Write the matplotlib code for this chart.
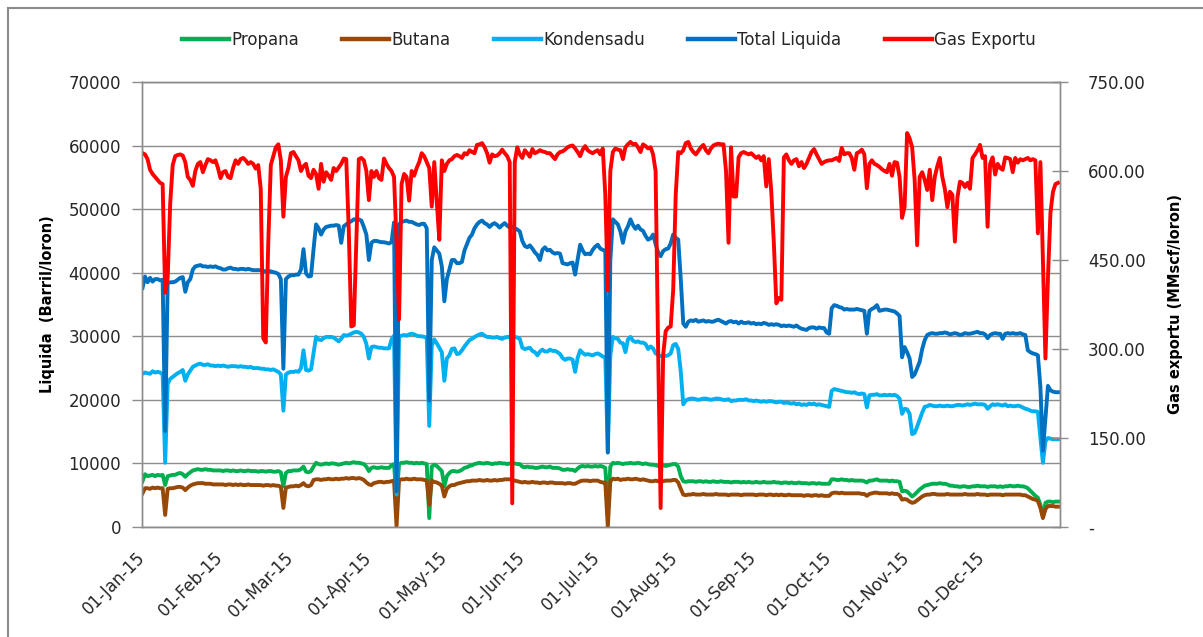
import matplotlib
matplotlib.use('Agg')
import matplotlib.pyplot as plt
import matplotlib.dates as mdates
from matplotlib.ticker import FuncFormatter, MultipleLocator
from matplotlib.lines import Line2D
import numpy as np
import pandas as pd

# daily values for 2015, one row per month (liquids in thousand barrel/day)
days = pd.date_range('2015-01-01', '2015-12-31', freq='D')

propana = [
    7.2, 8.3, 8.0, 8.1, 8.2, 8.0, 8.2, 8.1, 8.2, 6.6, 8.0, 8.1, 8.2, 8.2, 8.4, 8.5, 8.3, 7.9, 8.3, 8.6, 8.9, 9.0, 9.1, 9.0, 9.0, 9.1, 9.0, 9.0, 8.9, 8.9, 8.9,
    8.9, 8.8, 8.9, 8.9, 8.8, 8.9, 8.8, 8.8, 8.9, 8.8, 8.8, 8.9, 8.8, 8.8, 8.8, 8.7, 8.8, 8.8, 8.7, 8.8, 8.8, 8.7, 8.7, 8.8, 8.6, 6.4, 8.5, 8.8,
    8.8, 8.9, 8.9, 8.9, 9.1, 9.5, 8.7, 8.6, 8.8, 9.5, 10.1, 9.9, 9.8, 9.9, 10.0, 9.9, 10.0, 10.0, 9.9, 9.8, 9.9, 10.0, 10.1, 10.0, 10.1, 10.2, 10.1, 10.1, 10.0, 9.9, 9.5,
    8.8, 9.3, 9.4, 9.3, 9.3, 9.4, 9.3, 9.3, 9.3, 9.7, 9.9, 4.5, 9.9, 10.1, 10.1, 10.2, 10.1, 10.1, 10.0, 10.1, 10.0, 10.1, 10.0, 9.9, 1.4, 9.5, 9.8, 9.6, 9.2, 8.8,
    6.4, 8.0, 8.5, 8.8, 8.8, 8.7, 8.8, 9.0, 9.3, 9.4, 9.6, 9.7, 9.9, 10.0, 10.1, 10.0, 10.0, 10.1, 10.0, 9.9, 10.0, 10.0, 10.1, 10.0, 10.0, 9.9, 10.0, 10.0, 10.0, 9.9, 9.9,
    9.5, 9.4, 9.5, 9.4, 9.4, 9.3, 9.3, 9.4, 9.5, 9.4, 9.4, 9.5, 9.3, 9.3, 9.3, 9.2, 9.0, 9.0, 9.1, 9.0, 9.0, 8.8, 9.2, 9.5, 9.6, 9.5, 9.6, 9.5, 9.5, 9.6,
    9.5, 9.6, 9.5, 9.3, 3.0, 9.5, 10.1, 10.0, 10.1, 10.0, 9.9, 10.0, 10.0, 10.1, 10.0, 10.0, 10.1, 10.0, 9.9, 10.0, 9.9, 9.8, 9.8, 9.7, 9.6, 9.7, 9.7, 9.6, 9.7, 9.8, 9.9,
    9.9, 9.5, 8.0, 7.2, 7.1, 7.2, 7.2, 7.2, 7.1, 7.2, 7.2, 7.1, 7.2, 7.1, 7.1, 7.2, 7.1, 7.1, 7.2, 7.1, 7.1, 7.1, 7.0, 7.1, 7.1, 7.1, 7.0, 7.1, 7.0, 7.1, 7.0,
    7.0, 7.1, 7.0, 7.0, 7.1, 7.0, 7.0, 7.0, 7.1, 7.0, 7.0, 6.9, 7.0, 7.0, 6.9, 7.0, 6.9, 6.9, 7.0, 6.9, 6.9, 6.9, 6.8, 6.9, 6.9, 6.8, 6.9, 6.8, 6.8, 6.8,
    6.8, 7.5, 7.5, 7.4, 7.4, 7.5, 7.4, 7.4, 7.3, 7.4, 7.3, 7.3, 7.3, 7.3, 7.2, 7.0, 7.3, 7.3, 7.4, 7.5, 7.3, 7.3, 7.3, 7.3, 7.2, 7.3, 7.2, 7.2, 7.1, 5.6, 5.7,
    5.6, 5.2, 4.8, 5.1, 5.5, 5.9, 6.2, 6.5, 6.6, 6.7, 6.8, 6.8, 6.8, 6.9, 6.8, 6.8, 6.7, 6.5, 6.5, 6.4, 6.4, 6.3, 6.4, 6.4, 6.3, 6.3, 6.4, 6.4, 6.5, 6.4,
    6.4, 6.4, 6.3, 6.4, 6.4, 6.4, 6.3, 6.4, 6.3, 6.4, 6.4, 6.5, 6.4, 6.4, 6.5, 6.4, 6.4, 6.3, 6.1, 5.7, 5.3, 4.9, 4.6, 3.5, 1.6, 3.8, 4.0, 4.0, 3.9, 4.0, 4.0,
]

butana = [
    5.3, 6.1, 6.1, 6.0, 6.2, 6.1, 6.2, 6.1, 6.1, 1.9, 6.0, 6.1, 6.1, 6.2, 6.3, 6.3, 6.2, 5.8, 6.2, 6.5, 6.7, 6.8, 6.9, 6.9, 6.9, 6.8, 6.8, 6.8, 6.7, 6.7, 6.7,
    6.7, 6.7, 6.6, 6.7, 6.7, 6.6, 6.7, 6.6, 6.7, 6.6, 6.6, 6.7, 6.6, 6.6, 6.6, 6.6, 6.6, 6.5, 6.6, 6.6, 6.5, 6.6, 6.5, 6.5, 6.3, 3.0, 6.2, 6.3,
    6.4, 6.4, 6.5, 6.4, 6.6, 6.9, 6.5, 6.4, 6.6, 7.4, 7.5, 7.5, 7.4, 7.5, 7.5, 7.6, 7.5, 7.5, 7.6, 7.5, 7.6, 7.6, 7.7, 7.6, 7.7, 7.7, 7.6, 7.7, 7.6, 7.4, 7.0,
    6.7, 6.6, 6.9, 7.0, 7.1, 7.1, 7.0, 7.1, 7.1, 7.2, 7.3, 0.1, 7.4, 7.5, 7.5, 7.6, 7.5, 7.5, 7.6, 7.5, 7.5, 7.5, 7.4, 7.3, 3.5, 7.3, 7.1, 7.0, 6.8, 6.5,
    4.8, 6.0, 6.4, 6.6, 6.6, 6.8, 6.9, 7.0, 7.1, 7.2, 7.2, 7.3, 7.3, 7.3, 7.4, 7.3, 7.3, 7.4, 7.3, 7.3, 7.4, 7.3, 7.4, 7.4, 7.5, 7.5, 7.5, 7.4, 7.3, 7.2, 7.1,
    7.0, 7.1, 7.0, 7.0, 7.1, 7.0, 7.0, 6.9, 7.0, 7.0, 6.9, 7.0, 7.0, 6.9, 6.9, 6.9, 6.9, 6.8, 6.9, 6.9, 6.8, 6.8, 7.0, 7.2, 7.3, 7.3, 7.3, 7.2, 7.3, 7.3,
    7.3, 7.1, 7.0, 7.0, 0.0, 7.2, 7.6, 7.5, 7.6, 7.4, 7.5, 7.5, 7.6, 7.5, 7.5, 7.6, 7.5, 7.4, 7.5, 7.4, 7.3, 7.2, 7.2, 7.3, 7.2, 7.2, 7.2, 7.3, 7.3, 7.3, 7.4,
    7.4, 7.0, 6.0, 5.1, 5.0, 5.1, 5.1, 5.2, 5.1, 5.1, 5.1, 5.2, 5.1, 5.1, 5.1, 5.1, 5.2, 5.1, 5.1, 5.1, 5.1, 5.0, 5.1, 5.1, 5.1, 5.1, 5.0, 5.1, 5.1, 5.1, 5.1,
    5.1, 5.0, 5.1, 5.1, 5.1, 5.0, 5.1, 5.1, 5.0, 5.1, 5.0, 5.1, 5.0, 5.0, 5.1, 5.0, 5.0, 5.0, 5.0, 5.0, 4.9, 5.0, 5.0, 4.9, 5.0, 5.0, 4.9, 5.0, 4.9, 4.9,
    4.9, 5.3, 5.4, 5.4, 5.3, 5.4, 5.3, 5.3, 5.3, 5.3, 5.3, 5.3, 5.3, 5.2, 5.2, 4.9, 5.2, 5.3, 5.4, 5.4, 5.3, 5.3, 5.3, 5.3, 5.2, 5.3, 5.2, 5.2, 5.0, 4.3, 4.4,
    4.3, 4.0, 3.8, 3.9, 4.2, 4.5, 4.8, 5.0, 5.1, 5.1, 5.2, 5.2, 5.1, 5.1, 5.1, 5.1, 5.2, 5.1, 5.1, 5.1, 5.1, 5.1, 5.1, 5.2, 5.1, 5.1, 5.1, 5.1, 5.2, 5.1,
    5.1, 5.1, 5.0, 5.1, 5.1, 5.1, 5.1, 5.1, 5.0, 5.1, 5.1, 5.1, 5.1, 5.1, 5.1, 5.1, 5.0, 5.0, 4.8, 4.6, 4.4, 4.3, 4.1, 3.0, 1.4, 2.8, 3.3, 3.3, 3.3, 3.2, 3.2,
]

kondensadu = [
    24.1, 24.3, 24.2, 24.1, 24.5, 24.3, 24.4, 24.3, 24.0, 10.1, 22.5, 23.3, 23.6, 23.9, 24.2, 24.4, 24.7, 23.0, 24.0, 24.6, 25.2, 25.4, 25.6, 25.7, 25.5, 25.5, 25.6, 25.4, 25.4, 25.3, 25.4,
    25.3, 25.4, 25.3, 25.2, 25.3, 25.3, 25.3, 25.2, 25.3, 25.2, 25.2, 25.1, 25.2, 25.0, 25.0, 25.0, 24.9, 24.9, 24.8, 24.8, 24.7, 24.8, 24.6, 24.4, 24.0, 18.3, 24.0, 24.3,
    24.4, 24.4, 24.5, 24.4, 25.0, 27.8, 24.7, 24.6, 24.8, 27.3, 29.9, 29.5, 29.4, 29.7, 29.9, 29.9, 29.9, 29.8, 29.5, 29.2, 29.6, 30.2, 30.1, 30.2, 30.4, 30.6, 30.7, 30.6, 30.4, 29.9, 28.8,
    26.5, 28.3, 28.4, 28.3, 28.2, 28.2, 28.1, 28.1, 28.1, 29.5, 30.1, 5.1, 30.0, 30.1, 30.2, 30.1, 30.3, 30.4, 30.3, 30.1, 30.0, 30.0, 29.9, 29.8, 15.9, 28.5, 29.5, 28.9, 28.2, 27.5,
    23.0, 26.5, 27.0, 28.0, 28.1, 27.2, 27.3, 27.8, 28.4, 28.9, 29.4, 29.6, 29.9, 30.1, 30.3, 30.4, 30.1, 29.9, 29.9, 29.8, 29.8, 29.9, 29.7, 29.6, 29.8, 29.9, 29.9, 29.9, 29.9, 29.8, 29.6,
    28.2, 28.0, 28.1, 28.2, 27.7, 27.5, 27.0, 27.6, 27.9, 27.6, 27.6, 27.9, 27.7, 27.7, 27.5, 27.2, 26.6, 26.3, 26.5, 26.5, 26.3, 24.4, 26.6, 27.8, 27.4, 27.1, 27.2, 27.1, 27.0, 27.2,
    27.3, 27.1, 26.8, 26.7, 11.8, 27.0, 29.9, 29.7, 29.6, 29.0, 28.9, 27.5, 29.5, 29.9, 29.3, 29.1, 29.2, 29.0, 29.0, 28.8, 28.0, 28.4, 28.1, 27.3, 27.1, 26.9, 26.9, 26.9, 27.0, 27.3, 28.6,
    28.8, 28.0, 24.5, 19.3, 19.9, 20.1, 20.2, 20.2, 20.1, 20.0, 20.1, 20.2, 20.2, 20.1, 20.0, 20.1, 20.2, 20.2, 20.1, 20.0, 20.0, 20.1, 19.8, 19.9, 19.9, 20.0, 20.0, 20.0, 20.1, 19.9, 19.9,
    19.8, 19.9, 19.8, 19.7, 19.8, 19.7, 19.8, 19.8, 19.7, 19.6, 19.7, 19.7, 19.5, 19.6, 19.5, 19.4, 19.5, 19.3, 19.4, 19.2, 19.3, 19.2, 19.4, 19.3, 19.4, 19.2, 19.3, 19.2, 19.1, 19.0,
    18.9, 21.4, 21.7, 21.6, 21.5, 21.4, 21.3, 21.2, 21.2, 21.1, 21.2, 21.0, 20.9, 21.0, 20.9, 18.8, 20.7, 20.8, 20.8, 20.9, 20.7, 20.7, 20.8, 20.7, 20.8, 20.7, 20.8, 20.6, 20.2, 17.8, 18.6,
    18.5, 17.8, 14.6, 14.8, 15.8, 16.9, 18.0, 18.9, 19.0, 19.2, 19.1, 19.0, 19.0, 19.1, 19.0, 19.0, 19.1, 19.0, 19.0, 19.1, 19.2, 19.2, 19.1, 19.2, 19.3, 19.2, 19.3, 19.4, 19.3, 19.3,
    19.3, 19.2, 18.6, 19.0, 19.3, 19.2, 19.3, 19.2, 19.1, 19.3, 19.0, 19.1, 19.0, 19.0, 19.1, 19.0, 18.8, 18.6, 18.5, 18.3, 18.2, 18.2, 18.1, 14.0, 10.1, 13.5, 14.0, 13.9, 13.8, 13.8, 13.8,
]

total_liquida = [
    37.6, 39.4, 38.5, 39.2, 38.6, 39.0, 39.0, 38.8, 38.9, 15.1, 38.4, 38.5, 38.5, 38.6, 38.9, 39.2, 39.3, 37.0, 38.5, 39.0, 40.5, 41.0, 41.1, 41.2, 41.0, 41.0, 40.9, 41.0, 40.9, 41.0, 40.8,
    40.7, 40.5, 40.5, 40.7, 40.8, 40.6, 40.6, 40.5, 40.6, 40.6, 40.5, 40.6, 40.5, 40.4, 40.4, 40.4, 40.4, 40.3, 40.2, 40.3, 40.2, 40.1, 40.0, 39.8, 39.0, 24.9, 39.0, 39.4,
    39.6, 39.6, 39.7, 39.7, 40.5, 43.7, 39.9, 39.4, 39.5, 43.7, 47.6, 47.0, 46.0, 46.8, 47.2, 47.3, 47.4, 47.4, 47.5, 47.4, 44.7, 47.3, 47.6, 47.9, 48.1, 48.4, 48.3, 48.4, 48.2, 47.2, 46.0,
    42.0, 44.7, 45.0, 45.0, 44.9, 44.8, 44.8, 44.7, 44.6, 44.8, 47.9, 5.6, 47.6, 48.0, 48.1, 48.2, 48.0, 48.0, 47.8, 47.6, 47.5, 47.7, 47.7, 47.0, 19.9, 42.0, 44.0, 43.5, 43.0, 41.0,
    35.5, 39.0, 40.5, 42.0, 42.0, 41.5, 41.5, 41.7, 43.5, 44.5, 45.5, 46.0, 47.0, 47.6, 48.0, 48.2, 47.8, 47.6, 47.2, 47.6, 47.8, 47.5, 47.1, 47.5, 47.8, 47.4, 47.1, 47.2, 47.0, 46.8, 46.5,
    45.0, 44.2, 44.0, 44.3, 43.8, 43.2, 42.8, 42.0, 43.6, 44.0, 43.5, 43.6, 43.2, 43.0, 43.1, 43.0, 41.5, 41.4, 41.3, 41.5, 41.6, 39.7, 42.0, 44.4, 43.5, 42.9, 43.0, 42.9, 43.6, 44.1,
    44.4, 43.8, 43.6, 43.4, 11.7, 42.0, 48.4, 48.0, 47.6, 46.5, 44.7, 46.5, 47.3, 48.4, 47.5, 46.9, 47.4, 46.8, 46.6, 45.8, 45.2, 45.4, 46.0, 44.5, 43.2, 42.6, 43.4, 43.7, 43.8, 44.6, 46.0,
    45.5, 45.2, 39.0, 32.0, 31.5, 32.3, 32.5, 32.4, 32.6, 32.3, 32.4, 32.5, 32.3, 32.4, 32.3, 32.3, 32.5, 32.6, 32.4, 32.2, 32.0, 32.3, 32.4, 32.2, 32.3, 32.0, 32.3, 32.1, 32.1, 32.2, 32.0,
    32.1, 31.9, 32.0, 31.9, 32.1, 32.0, 31.8, 31.9, 31.8, 31.9, 31.8, 31.6, 31.7, 31.6, 31.7, 31.6, 31.5, 31.7, 31.4, 31.2, 31.1, 31.0, 31.3, 31.4, 31.4, 31.2, 31.4, 31.3, 31.3, 30.6,
    30.4, 34.4, 34.9, 34.8, 34.6, 34.5, 34.2, 34.3, 34.2, 34.2, 34.2, 34.3, 34.2, 34.1, 34.0, 30.4, 34.0, 34.3, 34.5, 34.9, 34.0, 34.1, 34.2, 34.2, 34.1, 34.0, 33.9, 33.6, 33.2, 26.7, 28.3,
    27.5, 26.5, 23.6, 24.0, 25.0, 26.0, 28.0, 29.4, 30.2, 30.4, 30.5, 30.4, 30.4, 30.5, 30.5, 30.6, 30.5, 30.3, 30.4, 30.5, 30.4, 30.2, 30.3, 30.5, 30.4, 30.4, 30.5, 30.6, 30.7, 30.5,
    30.5, 30.3, 29.7, 30.2, 30.4, 30.5, 30.4, 30.4, 29.6, 30.4, 30.5, 30.4, 30.5, 30.4, 30.4, 30.5, 30.3, 30.2, 27.8, 27.5, 27.3, 27.2, 27.0, 22.0, 12.0, 17.0, 22.2, 21.5, 21.3, 21.2, 21.2,
]

# MMscf/day
gas_exportu = [
    630, 628, 620, 602, 595, 590, 585, 580, 578, 395, 420, 545, 610, 625, 627, 628, 626, 615, 590, 585, 575, 600, 612, 615, 598, 610, 620, 618, 615, 618, 605,
    588, 598, 600, 590, 588, 605, 618, 612, 620, 622, 618, 612, 615, 612, 604, 610, 570, 318, 311, 480, 610, 625, 640, 645, 618, 523, 590, 605,
    630, 632, 625, 618, 600, 608, 612, 592, 588, 602, 595, 570, 612, 582, 598, 592, 585, 605, 600, 606, 612, 621, 620, 500, 338, 340, 480, 620, 622, 618, 600,
    551, 600, 590, 600, 588, 585, 621, 612, 605, 600, 590, 480, 350, 578, 595, 590, 550, 600, 592, 605, 615, 630, 625, 615, 605, 540, 615, 548, 484, 618,
    600, 612, 618, 620, 625, 627, 625, 622, 630, 628, 635, 632, 630, 644, 645, 647, 640, 630, 614, 628, 625, 626, 630, 636, 630, 625, 615, 40, 615, 640, 628,
    622, 635, 630, 624, 637, 630, 632, 635, 633, 632, 630, 630, 625, 620, 628, 632, 633, 636, 640, 642, 643, 638, 632, 625, 636, 642, 635, 632, 630, 633,
    635, 628, 638, 560, 399, 600, 632, 638, 636, 635, 620, 640, 645, 649, 645, 646, 640, 632, 645, 642, 638, 640, 628, 600, 300, 32, 290, 330, 336, 338, 400,
    560, 632, 630, 635, 647, 649, 638, 632, 628, 634, 640, 644, 635, 630, 638, 643, 645, 646, 645, 645, 600, 479, 640, 557, 557, 623, 630, 632, 630, 628, 630,
    626, 622, 625, 618, 625, 574, 620, 565, 480, 377, 386, 383, 623, 628, 618, 612, 618, 620, 608, 615, 605, 612, 622, 632, 637, 628, 620, 612, 615, 617,
    618, 618, 620, 622, 617, 639, 628, 630, 630, 622, 602, 630, 632, 636, 628, 571, 612, 618, 612, 610, 607, 603, 600, 598, 612, 592, 615, 614, 590, 521, 540,
    664, 655, 640, 585, 475, 590, 598, 585, 568, 602, 551, 590, 608, 622, 590, 570, 539, 565, 560, 481, 555, 582, 580, 573, 580, 570, 622, 628, 635, 644,
    622, 625, 506, 612, 623, 594, 612, 605, 602, 623, 622, 620, 598, 622, 614, 620, 618, 620, 622, 618, 620, 618, 495, 615, 450, 284, 420, 530, 565, 578, 580,
]

names = ['Propana', 'Butana', 'Kondensadu', 'Total Liquida', 'Gas Exportu']
colors = ['#00B050', '#984807', '#00B0F0', '#0070C0', '#FF0000']

grid_c = '#8c8c8c'
txt_c = '#262626'
lw = 2.8

fig = plt.figure(figsize=(12.03, 6.37), dpi=100)
ax = fig.add_axes([142/1203, 1-527/637, 918/1203, 445/637])

liq = [propana, butana, kondensadu, total_liquida]
for vals, c in zip(liq, colors[:4]):
    ax.plot(days, np.array(vals)*1000, color=c, lw=lw, solid_joinstyle='round')

ax.set_ylim(0, 70000)
ax.yaxis.set_major_locator(MultipleLocator(10000))
ax.set_xlim(days[0]-pd.Timedelta(hours=5), days[-1]+pd.Timedelta(hours=19))
ax.grid(axis='y', color=grid_c, lw=1)
ax.set_axisbelow(True)
ax.xaxis.set_major_locator(mdates.MonthLocator())
ax.xaxis.set_major_formatter(mdates.DateFormatter('%d-%b-%y'))
for lab in ax.get_xticklabels():
    lab.set_rotation(45)
    lab.set_ha('right')
    lab.set_va('center')
    lab.set_rotation_mode('anchor')
ax.tick_params(axis='x', length=0, pad=20, labelsize=12, labelcolor=txt_c)
ax.tick_params(axis='y', length=7, color=grid_c, width=1, pad=8, labelsize=12, labelcolor=txt_c)
for s in ax.spines.values():
    s.set_color(grid_c)
    s.set_linewidth(1)
ax.set_ylabel('Liquida  (Barril/loron)', fontsize=10.5, fontweight='bold', color='black', labelpad=10)

ax2 = ax.twinx()
ax2.plot(days, gas_exportu, color=colors[4], lw=lw, solid_joinstyle='round')
ax2.set_ylim(0, 750)
ax2.yaxis.set_major_locator(MultipleLocator(150))
ax2.yaxis.set_major_formatter(FuncFormatter(lambda v, p: '-' if v == 0 else f'{v:.2f}'))
ax2.tick_params(axis='y', direction='inout', length=12, color=grid_c, width=1, pad=14, labelsize=12, labelcolor=txt_c)
for s in ax2.spines.values():
    s.set_color(grid_c)
    s.set_linewidth(1)
ax2.set_ylabel('Gas exportu (MMscf/loron)', fontsize=10.5, fontweight='bold', color='black', labelpad=16)

handles = [Line2D([], [], color=c, lw=3.2) for c in colors]
fig.legend(handles, names, loc='center', bbox_to_anchor=(609/1203, 1-40/637), ncol=5, frameon=False,
           fontsize=12, handlelength=2.8, handletextpad=0.15, columnspacing=2.6, labelcolor=txt_c)

# outer chart border (only top and left visible in the screenshot)
fig.add_artist(Line2D([7.5/1203, 7.5/1203], [0, 1-7.5/637], transform=fig.transFigure, color='#8a8a8a', lw=1.5))
fig.add_artist(Line2D([7.5/1203, 1], [1-7.5/637, 1-7.5/637], transform=fig.transFigure, color='#8a8a8a', lw=1.5))

fig.savefig('out.png', dpi=100)
